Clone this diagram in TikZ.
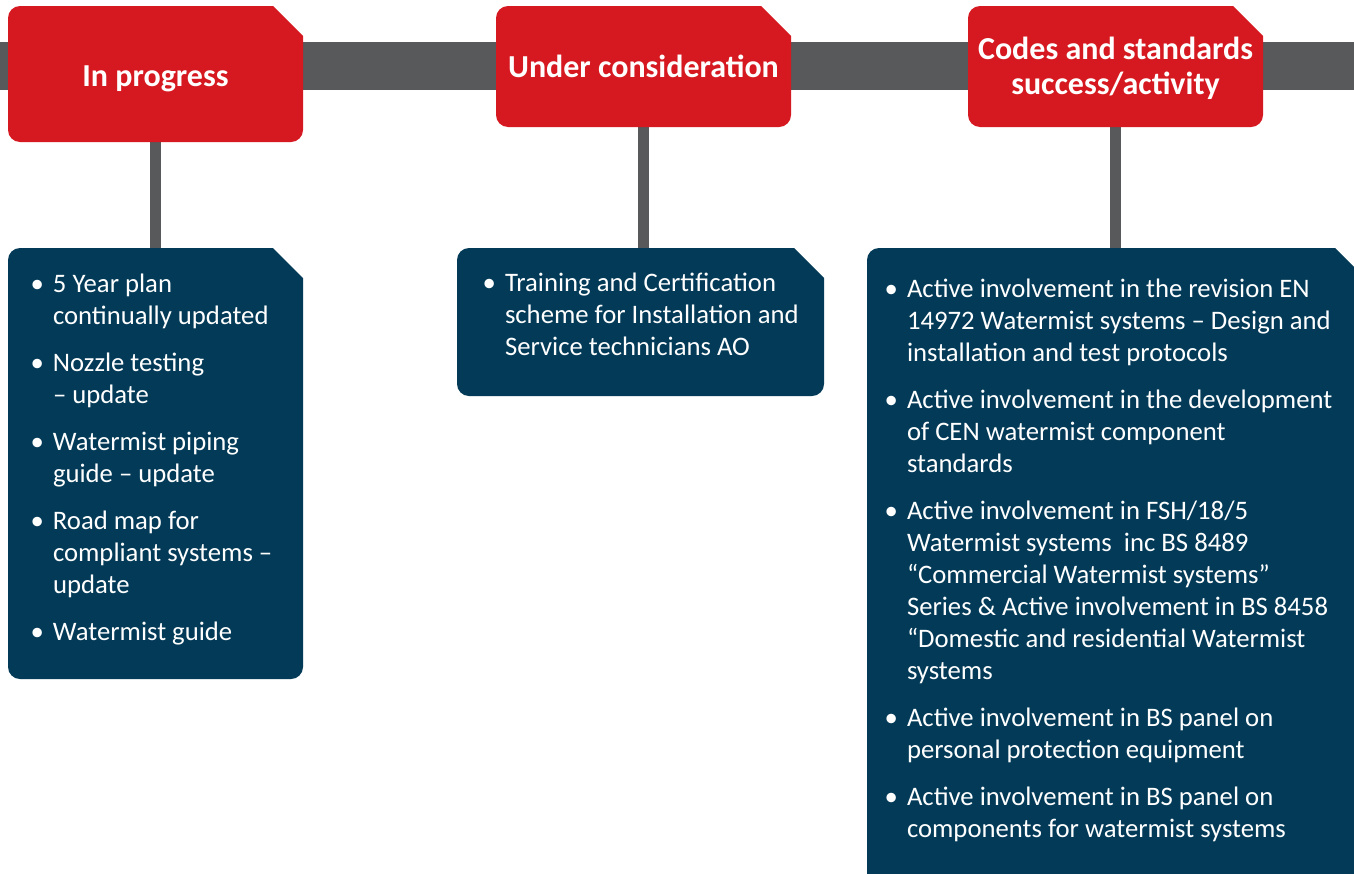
\documentclass[tikz,border=0pt]{standalone}
\usepackage{fontspec}
\setmainfont{Carlito}
\usetikzlibrary{backgrounds,calc}
\definecolor{hdrred}{RGB}{214,25,32}
\definecolor{bodyblue}{RGB}{3,58,87}
\definecolor{bargray}{RGB}{88,89,91}
\newcommand\cutshape[2]{%
  \fill[#2] let \p1=(#1.north west), \p2=(#1.south east) in
    (\x1,\y1-12pt) arc[start angle=180,end angle=90,radius=12pt]
    -- (\x2-30pt,\y1) -- (\x2,\y1-30pt) -- (\x2,\y2+12pt)
    arc[start angle=0,end angle=-90,radius=12pt]
    -- (\x1+12pt,\y2) arc[start angle=270,end angle=180,radius=12pt] -- cycle;}
\newcommand\bul{\llap{\textbullet\hspace{9pt}}}
\tikzset{
  boxnode/.style={draw=none, rectangle, inner sep=0pt, outer sep=0pt},
  hdrtxt/.style={inner sep=0pt, outer sep=0pt, anchor=base, text=white,
    font=\fontsize{32}{35}\selectfont\bfseries},
  bodytxt/.style={inner sep=0pt, outer sep=0pt, anchor=base west, text=white,
    font=\fontsize{26.7}{32}\selectfont},
  connline/.style={draw=bargray, line width=11pt},
  barline/.style={draw=bargray, line width=48pt}
}
\begin{document}
\begin{tikzpicture}[x=1pt, y=-1pt]
\useasboundingbox (0,0) rectangle (1354,873);
% box nodes (shapes)
\node[boxnode, minimum width=295pt, minimum height=136pt] (h1) at (155.5,74) {};
\node[boxnode, minimum width=295pt, minimum height=121pt] (h2) at (643.5,66.5) {};
\node[boxnode, minimum width=295pt, minimum height=121pt] (h3) at (1115.5,66.5) {};
\node[boxnode, minimum width=295pt, minimum height=431pt] (b1) at (155.5,463.5) {};
\node[boxnode, minimum width=367pt, minimum height=148pt] (b2) at (640.5,322) {};
\node[boxnode, minimum width=498pt, minimum height=642pt] (b3) at (1116,569) {};
\coordinate (barL) at (0,66);
\coordinate (barR) at (1354,66);
% header labels
\node[hdrtxt] (h1l) at (155.5,86) {In progress};
\node[hdrtxt] (h2l) at (643.5,77) {Under consideration};
\node[hdrtxt] (h3l) at (1115.5,59) {\begin{tabular}[t]{@{}c@{}}Codes and standards\\success/activity\end{tabular}};
% body texts
\node[bodytxt] (t1) at (53,292) {\begin{tabular}[t]{@{}l@{}}
\bul 5 Year plan\\
continually updated\\[15pt]
\bul Nozzle testing\\
– update\\[15pt]
\bul Watermist piping\\
guide – update\\[15pt]
\bul Road map for\\
compliant systems –\\
update\\[15pt]
\bul Watermist guide
\end{tabular}};
\node[bodytxt] (t2) at (505,291) {\begin{tabular}[t]{@{}l@{}}
\bul Training and Certification\\
scheme for Installation and\\
Service technicians AO
\end{tabular}};
\node[bodytxt] (t3) at (907,297) {\begin{tabular}[t]{@{}l@{}}
\bul Active involvement in the revision EN\\
14972 Watermist systems – Design and\\
installation and test protocols\\[15pt]
\bul Active involvement in the development\\
of CEN watermist component\\
standards\\[15pt]
\bul Active involvement in FSH/18/5\\
Watermist systems\ \ inc BS 8489\\
“Commercial Watermist systems”\\
Series \& Active involvement in BS 8458\\
“Domestic and residential Watermist\\
systems\\[15pt]
\bul Active involvement in BS panel on\\
personal protection equipment\\[15pt]
\bul Active involvement in BS panel on\\
components for watermist systems
\end{tabular}};
\begin{scope}[on background layer]
  \draw[barline] (barL) -- (barR);
  \draw[connline] (h1.south) -- (b1.north);
  \draw[connline] (h2.south) -- (h2.south |- b2.north);
  \draw[connline] (h3.south) -- (h3.south |- b3.north);
  \cutshape{h1}{hdrred}
  \cutshape{h2}{hdrred}
  \cutshape{h3}{hdrred}
  \cutshape{b1}{bodyblue}
  \cutshape{b2}{bodyblue}
  \cutshape{b3}{bodyblue}
\end{scope}
\end{tikzpicture}
\end{document}
